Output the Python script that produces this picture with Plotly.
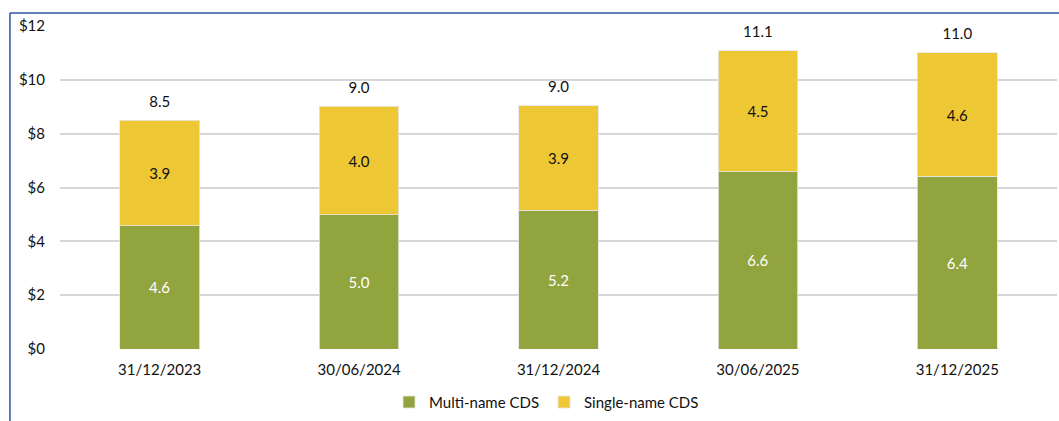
import plotly.graph_objects as go

# Reporting dates
dates = ["31/12/2023", "30/06/2024", "31/12/2024", "30/06/2025", "31/12/2025"]

# Notional outstanding, $ trillions
multi_name = [4.58, 4.98, 5.16, 6.58, 6.42]
single_name = [3.92, 4.03, 3.87, 4.50, 4.58]
totals = [m + s for m, s in zip(multi_name, single_name)]

# Y-axis ticks
y_ticks = [0, 2, 4, 6, 8, 10, 12]
y_tick_text = ["$0", "$2", "$4", "$6", "$8", "$10", "$12"]

GREEN = "#92A43E"
YELLOW = "#EEC834"
FRAME = "#2F55A4"
FONT = "Lato, 'Noto Sans', sans-serif"
FS = 15

fig = go.Figure()

fig.add_trace(go.Bar(
    x=dates, y=multi_name, name="Multi-name CDS",
    marker=dict(color=GREEN, line=dict(color="rgba(230,230,230,0.8)", width=1)),
    width=0.4,
    text=multi_name, texttemplate="%{y:.1f}", textposition="inside",
    insidetextanchor="middle",
    textfont=dict(color="white", size=FS, family=FONT),
    hoverinfo="skip",
))
fig.add_trace(go.Bar(
    x=dates, y=single_name, name="Single-name CDS",
    marker=dict(color=YELLOW, line=dict(color="rgba(230,230,230,0.8)", width=1)),
    width=0.4,
    text=single_name, texttemplate="%{y:.1f}", textposition="inside",
    insidetextanchor="middle",
    textfont=dict(color="#111111", size=FS, family=FONT),
    hoverinfo="skip",
))
# Totals above each stack (transparent markers push the text up a little)
fig.add_trace(go.Scatter(
    x=dates, y=totals, mode="markers+text",
    marker=dict(size=14, opacity=0),
    text=[f"{t:.1f}" for t in totals],
    textposition="top center",
    textfont=dict(color="#111111", size=FS, family=FONT),
    showlegend=False, hoverinfo="skip", cliponaxis=False,
))

fig.update_layout(
    barmode="stack",
    width=1059, height=421,
    margin=dict(l=60, r=2, t=26, b=70),
    paper_bgcolor="white", plot_bgcolor="white",
    font=dict(family=FONT, size=FS, color="#111111"),
    legend=dict(
        orientation="h", x=0.488, y=-0.165, xanchor="center", yanchor="middle",
        font=dict(size=FS, family=FONT, color="#111111"),
        traceorder="normal", itemwidth=30,
    ),
    showlegend=True,
)
fig.update_xaxes(
    showgrid=False, showline=False, zeroline=False,
    tickfont=dict(size=FS, family=FONT, color="#111111"),
    ticks="", range=[-0.5, 4.5], ticklabelstandoff=10,
)
fig.update_yaxes(
    range=[0, 12], tickvals=y_ticks, ticktext=y_tick_text,
    showgrid=True, gridcolor="#D6D6D6", gridwidth=2,
    zeroline=False, showline=False, ticks="",
    ticklabelstandoff=14,
    tickfont=dict(size=FS, family=FONT, color="#111111"),
)

# Blue frame along the top and left edges
fig.add_shape(type="line", xref="paper", yref="paper",
              x0=-0.0502, x1=1.01, y0=1.04, y1=1.04,
              line=dict(color=FRAME, width=1.5))
fig.add_shape(type="line", xref="paper", yref="paper",
              x0=-0.0502, x1=-0.0502, y0=1.04, y1=-0.25,
              line=dict(color=FRAME, width=1.5))

fig.write_html("out.html")
